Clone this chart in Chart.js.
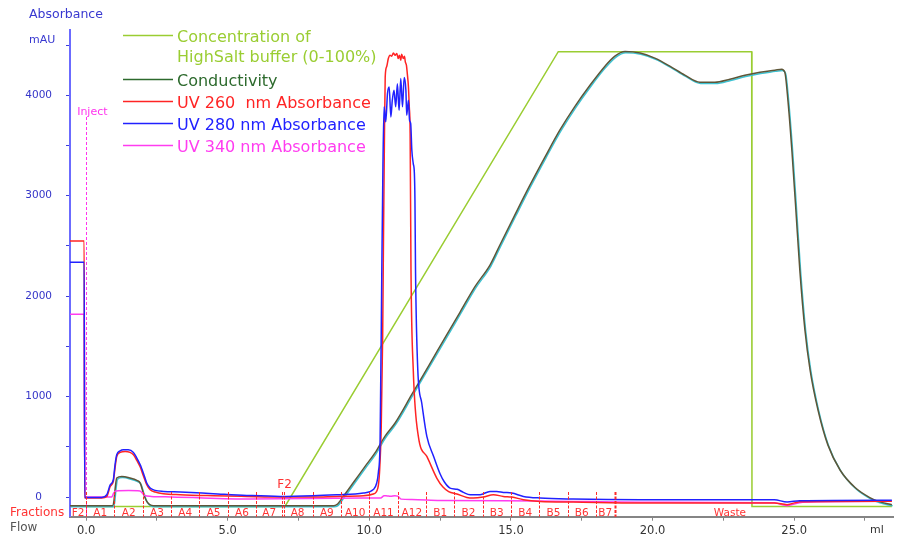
<!DOCTYPE html>
<html><head><meta charset="utf-8">
<script src="https://cdn.jsdelivr.net/npm/chart.js@4.4.1/dist/chart.umd.min.js"></script>
<style>html,body{margin:0;padding:0;background:#fff;}#wrap{width:897px;height:537px;}</style>
</head><body><div id="wrap"><canvas id="c" width="897" height="537"></canvas></div>
<script>
// ---------- data (ml vs value) ----------
const concX = [0, 7.02, 16.67, 23.5, 23.51, 28.45];
const concY = [0, 0, 100, 100, 0, 0];

const condX = [-0.57,0.93,0.98,1.03,1.08,1.26,1.55,1.79,1.91,2.02,2.14,2.38,8.73,8.85,9.08,9.45,9.85,10.2,10.55,10.91,11.5,12.1,12.7,13.2,13.73,14.26,14.61,15.14,15.67,16.2,16.73,17.26,17.79,18.32,18.67,19.03,19.56,20.08,20.61,21.14,21.67,22.2,22.73,23.26,23.79,24.32,24.56,24.67,24.78,24.92,25.06,25.2,25.38,25.56,25.84,26.19,26.62,27.15,27.67,28.0,28.45];
const condY = [-85,-85,-40,100,190,206,190,166,140,41,-43,-85,-85,-75,7,150,306,440,605,738,1022,1310,1600,1840,2095,2310,2510,2810,3105,3385,3655,3890,4100,4290,4390,4435,4420,4370,4290,4200,4130,4130,4160,4200,4230,4250,4260,4230,3950,3450,2860,2260,1665,1270,870,520,270,95,-5,-45,-75];

const uv260X = [-0.57,-0.07,-0.05,0.55,0.73,0.85,0.96,1.02,1.08,1.2,1.38,1.55,1.67,1.79,1.91,2.02,2.14,2.26,2.44,2.73,3.32,4.49,5.67,6.85,8.02,8.85,9.79,10.14,10.3,10.36,10.42,10.47,10.5,10.53,10.56,10.61,10.67,10.73,10.79,10.85,10.91,10.97,11.02,11.06,11.11,11.14,11.2,11.24,11.27,11.31,11.34,11.38,11.41,11.44,11.47,11.55,11.73,12.03,12.38,12.6,12.8,13.09,13.44,13.67,14.02,14.38,14.73,15.03,15.44,16.03,17.2,19.56,24.3,24.75,25.2,28.45];
const uv260Y = [2550,2550,-9,-9,7,106,156,289,405,445,454,445,421,365,299,213,123,74,51,34,24,14,7,1,1,7,14,31,90,250,700,1600,2600,3500,4183,4283,4366,4399,4389,4422,4399,4416,4366,4399,4349,4409,4366,4389,4332,4299,4216,4083,3885,3623,2260,1270,605,405,190,100,55,31,-3,-9,1,24,7,1,-26,-43,-49,-59,-59,-75,-45,-40];

const uv280X = [-0.57,-0.07,-0.05,0.55,0.73,0.85,0.96,1.02,1.08,1.2,1.32,1.49,1.67,1.79,1.91,2.02,2.14,2.26,2.44,2.73,3.32,4.49,5.67,6.85,8.02,8.85,9.79,10.14,10.26,10.32,10.38,10.44,10.48,10.52,10.58,10.64,10.7,10.76,10.81,10.87,10.93,10.99,11.05,11.11,11.17,11.23,11.29,11.32,11.38,11.42,11.46,11.5,11.55,11.59,11.61,11.63,11.71,11.85,12.03,12.27,12.5,12.65,12.85,13.1,13.32,13.56,13.91,14.26,14.5,14.73,15.03,15.44,16.03,17.2,19.56,24.3,24.75,25.2,28.45];
const uv280Y = [2338,2338,-3,-3,24,123,173,322,422,461,471,471,444,389,322,240,140,90,67,57,51,34,17,7,14,24,41,75,140,250,571,2260,3300,3885,3736,4017,4083,3785,3950,4050,3885,4116,3851,4166,3885,4176,4050,3801,3950,3751,3719,3453,3320,3224,2955,2260,1270,937,605,405,230,150,90,78,47,24,24,57,57,47,41,7,-9,-19,-26,-26,-49,-35,-30];

const uv340X = [-0.57,-0.07,-0.05,0.9,0.97,1.05,1.5,1.9,2.05,2.3,3.0,5.8,9.8,10.4,10.52,10.62,10.75,10.9,11.0,11.12,11.5,12.5,16.0,20.0,24.3,24.75,25.3,28.45];
const uv340Y = [1821,1821,0,0,40,62,65,62,20,7,2,-19,-9,-9,14,12,8,14,10,-20,-24,-33,-38,-52,-56,-85,-50,-42];

const fractionNames  = ['F2','A1','A2','A3','A4','A5','A6','A7','A8','A9','A10','A11','A12','B1','B2','B3','B4','B5','B6','B7','Waste'];
const fractionStarts = [-0.57,0,1,2,3,4,5,6,6.93,8,9,10,11,12,13,14,15,16,17,18,18.66];
const wasteLabelEnd = 26.8;
const injectAt = 0;
const eventName = 'F2';
const eventAt = 7.0;

const xTickValues = [0,2.5,5,7.5,10,12.5,15,17.5,20,22.5,25,27.5];
const yTickValues = [0,500,1000,1500,2000,2500,3000,3500,4000,4500];

const seriesLabels = ['Concentration of\nHighSalt buffer (0-100%)','Conductivity','UV 260  nm Absorbance','UV 280 nm Absorbance','UV 340 nm Absorbance'];

// ---------- chart ----------
const pts = (X, Y) => X.map((x, i) => ({x, y: Y[i]}));
const FONT = 'DejaVu Sans';
const colConc = '#9acd32', colCondLegend = '#2d6a2d', colCond = '#5e5638', colCondShadow = '#3ec3d3';
const colRed = '#ff2424', colBlue = '#2121ff', colPink = '#ff3cf0';

// first dataset is drawn on top
const datasets = [
  {label: seriesLabels[3], key: 'uv280', data: pts(uv280X, uv280Y), borderColor: colBlue, legendColor: colBlue, borderWidth: 1.5, cubicInterpolationMode: 'monotone'},
  {label: seriesLabels[2], key: 'uv260', data: pts(uv260X, uv260Y), borderColor: colRed, legendColor: colRed, borderWidth: 1.5, cubicInterpolationMode: 'monotone'},
  {label: seriesLabels[4], key: 'uv340', data: pts(uv340X, uv340Y), borderColor: colPink, legendColor: colPink, borderWidth: 1.5, cubicInterpolationMode: 'monotone'},
  {label: seriesLabels[1], key: 'cond', data: pts(condX, condY), borderColor: colCond, legendColor: colCondLegend, borderWidth: 1.5, cubicInterpolationMode: 'monotone'},
  {label: '', key: 'condShadow', shadow: true, data: pts(condX, condY), borderColor: colCondShadow, borderWidth: 1.5, cubicInterpolationMode: 'monotone'},
  {label: seriesLabels[0], key: 'conc', data: pts(concX, concY), yAxisID: 'yConc', borderColor: colConc, legendColor: colConc, borderWidth: 1.5, tension: 0}
];
const legendOrder = ['conc', 'cond', 'uv260', 'uv280', 'uv340'];

const overlay = {
  id: 'overlay',
  beforeDatasetsDraw(chart) {
    const {ctx, chartArea: ca, scales: {x}} = chart;
    ctx.save();
    ctx.strokeStyle = '#ff33ee'; ctx.lineWidth = 1; ctx.setLineDash([3, 2]);
    const xi = Math.round(x.getPixelForValue(injectAt)) + 0.5;
    ctx.beginPath(); ctx.moveTo(xi, 117); ctx.lineTo(xi, ca.bottom); ctx.stroke();
    ctx.restore();
  },
  beforeDatasetDraw(chart, args) {
    if (chart.data.datasets[args.index].shadow) { chart.ctx.save(); chart.ctx.translate(0.8, 1.2); }
  },
  afterDatasetDraw(chart, args) {
    if (chart.data.datasets[args.index].shadow) chart.ctx.restore();
  },
  afterDraw(chart) {
    const {ctx, chartArea: ca, scales: {x}} = chart;
    ctx.save();
    ctx.textBaseline = 'alphabetic';
    // axis title
    ctx.fillStyle = '#3838d0'; ctx.textAlign = 'left';
    ctx.font = `12.5px "${FONT}"`; ctx.fillText('Absorbance', 29, 18);
    ctx.font = `11px "${FONT}"`; ctx.fillText('mAU', 29, 43);
    // inject
    ctx.fillStyle = '#ff33ee'; ctx.font = `11px "${FONT}"`;
    ctx.fillText('Inject', x.getPixelForValue(injectAt) - 9, 115);
    // fraction boundaries
    ctx.strokeStyle = '#ff2a2a'; ctx.setLineDash([3, 1.5]);
    fractionStarts.forEach((s, i) => {
      if (i === 0) return;
      const px = Math.round(x.getPixelForValue(s)) + 0.5;
      ctx.lineWidth = (i === fractionStarts.length - 1) ? 2 : 1;
      ctx.beginPath(); ctx.moveTo(px, 492); ctx.lineTo(px, ca.bottom); ctx.stroke();
    });
    // event mark
    const ex = Math.round(x.getPixelForValue(eventAt)) + 0.5;
    ctx.lineWidth = 1;
    ctx.beginPath(); ctx.moveTo(ex, 492); ctx.lineTo(ex, ca.bottom); ctx.stroke();
    ctx.setLineDash([]);
    ctx.fillStyle = '#ff3333'; ctx.textAlign = 'center';
    ctx.font = `12px "${FONT}"`; ctx.fillText(eventName, ex, 488);
    // fraction labels
    ctx.font = `10.5px "${FONT}"`;
    fractionNames.forEach((n, i) => {
      const a = i === 0 ? ca.left : x.getPixelForValue(fractionStarts[i]);
      const b = i + 1 < fractionStarts.length ? x.getPixelForValue(fractionStarts[i + 1]) : x.getPixelForValue(wasteLabelEnd);
      ctx.fillText(n, (a + b) / 2, 515.5);
    });
    // row titles
    ctx.textAlign = 'left';
    ctx.font = `12px "${FONT}"`;
    ctx.fillText('Fractions', 10, 516);
    ctx.fillStyle = '#555555'; ctx.fillText('Flow', 10, 531);
    ctx.fillStyle = '#333333'; ctx.font = `11px "${FONT}"`; ctx.textAlign = 'center';
    ctx.fillText('ml', 877, 533);
    // legend
    ctx.textAlign = 'left'; ctx.font = `16px "${FONT}"`;
    let ly = 35.5;
    legendOrder.forEach(key => {
      const ds = chart.data.datasets.find(d => d.key === key);
      const lines = ds.label.split('\n');
      ctx.strokeStyle = ds.legendColor; ctx.lineWidth = 1.5;
      ctx.beginPath(); ctx.moveTo(123, ly); ctx.lineTo(173, ly); ctx.stroke();
      ctx.fillStyle = ds.legendColor;
      lines.forEach((t, k) => ctx.fillText(t, 177, ly + 6 + k * 20));
      ly += 22 * lines.length;
    });
    ctx.restore();
  }
};

new Chart(document.getElementById('c'), {
  type: 'line',
  data: {datasets},
  options: {
    responsive: false, animation: false, devicePixelRatio: 1,
    layout: {padding: {top: 30, right: 4, left: 0, bottom: 0}},
    plugins: {legend: {display: false}, tooltip: {enabled: false}},
    elements: {point: {radius: 0}},
    scales: {
      x: {
        type: 'linear', min: -0.57, max: 28.49, position: 'bottom',
        afterFit(s) { s.height = 20; },
        afterBuildTicks(s) { s.ticks = xTickValues.map(v => ({value: v})); },
        border: {display: true, color: '#858585', width: 2},
        grid: {drawOnChartArea: false, drawTicks: true, tickLength: 4, color: '#858585', tickColor: '#858585'},
        ticks: {padding: 3, color: '#333333', font: {family: FONT, size: 11.5}, autoSkip: false, maxRotation: 0,
          callback: v => (v % 5 === 0 ? v.toFixed(1) : '')}
      },
      y: {
        type: 'linear', min: -195, max: 4650, position: 'left',
        afterFit(s) { s.width = 70; },
        afterBuildTicks(s) { s.ticks = yTickValues.map(v => ({value: v})); },
        border: {display: true, color: '#6b6bff', width: 2},
        grid: {drawOnChartArea: false, drawTicks: true, tickLength: 4, color: '#3b3bdd', tickColor: '#3b3bdd'},
        ticks: {crossAlign: 'center', padding: 14, color: '#3434c8', font: {family: FONT, size: 10.5},
          callback: v => (v % 1000 === 0 ? String(v) : '')}
      },
      yConc: {type: 'linear', display: false, min: -2.26, max: 104.77}
    }
  },
  plugins: [overlay]
});
</script></body></html>
